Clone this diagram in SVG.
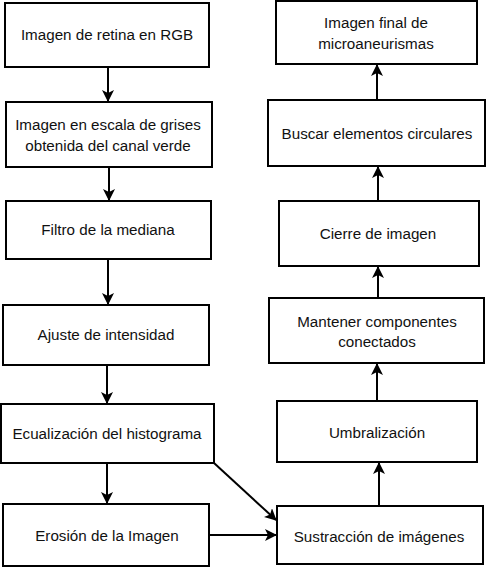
<svg xmlns="http://www.w3.org/2000/svg" width="487" height="568" viewBox="0 0 487 568">
<defs>
<style>
.box{fill:#fff;stroke:#000;stroke-width:2}
.t{font-family:"Liberation Sans",Arial,sans-serif;font-size:15.2px;fill:#111;text-anchor:middle}
.c{stroke:#000;stroke-width:2;fill:none}
</style>
<marker id="ah" viewBox="0 0 12 12" refX="11" refY="6" markerWidth="12" markerHeight="12" markerUnits="userSpaceOnUse" orient="auto">
<path d="M0,0 L12,6 L0,12 L3,6 z" fill="#000"/>
</marker>
</defs>
<rect width="487" height="568" fill="#fff"/>
<g id="n1"><rect class="box" x="5" y="3" width="204" height="64"/><text class="t" x="107" y="40">Imagen de retina en RGB</text></g>
<g id="n2"><rect class="box" x="6" y="102" width="206" height="65"/><text class="t" x="108" y="130">Imagen en escala de grises</text><text class="t" x="108" y="151">obtenida del canal verde</text></g>
<g id="n3"><rect class="box" x="6" y="201" width="205" height="58"/><text class="t" x="108" y="235">Filtro de la mediana</text></g>
<g id="n4"><rect class="box" x="3" y="305" width="206" height="60"/><text class="t" x="106" y="340">Ajuste de intensidad</text></g>
<g id="n5"><rect class="box" x="1" y="404" width="213" height="59"/><text class="t" x="107" y="439">Ecualización del histograma</text></g>
<g id="n6"><rect class="box" x="3" y="504" width="206" height="62"/><text class="t" x="107" y="541">Erosión de la Imagen</text></g>
<g id="n7"><rect class="box" x="277" y="506" width="206" height="58"/><text class="t" x="379" y="542">Sustracción de imágenes</text></g>
<g id="n8"><rect class="box" x="277" y="401" width="200" height="61"/><text class="t" x="377" y="438">Umbralización</text></g>
<g id="n9"><rect class="box" x="269" y="298" width="215" height="65"/><text class="t" x="377" y="327">Mantener componentes</text><text class="t" x="377" y="347">conectados</text></g>
<g id="n10"><rect class="box" x="279" y="201" width="200" height="65"/><text class="t" x="378" y="239">Cierre de imagen</text></g>
<g id="n11"><rect class="box" x="268" y="100" width="217" height="66"/><text class="t" x="377" y="139">Buscar elementos circulares</text></g>
<g id="n12"><rect class="box" x="276" y="1" width="201" height="63"/><text class="t" x="376" y="28">Imagen final de</text><text class="t" x="376" y="49">microaneurismas</text></g>
<g id="connectors">
<line class="c" x1="108" y1="67" x2="108" y2="101" marker-end="url(#ah)"/>
<line class="c" x1="109" y1="167" x2="109" y2="200" marker-end="url(#ah)"/>
<line class="c" x1="108" y1="259" x2="108" y2="304" marker-end="url(#ah)"/>
<line class="c" x1="107" y1="365" x2="107" y2="403" marker-end="url(#ah)"/>
<line class="c" x1="107" y1="463" x2="107" y2="503" marker-end="url(#ah)"/>
<line class="c" x1="209" y1="535" x2="276" y2="535" marker-end="url(#ah)"/>
<line class="c" x1="214" y1="463" x2="276" y2="520" marker-end="url(#ah)"/>
<line class="c" x1="379" y1="506" x2="379" y2="463" marker-end="url(#ah)"/>
<line class="c" x1="377" y1="401" x2="377" y2="364" marker-end="url(#ah)"/>
<line class="c" x1="378" y1="298" x2="378" y2="267" marker-end="url(#ah)"/>
<line class="c" x1="378" y1="201" x2="378" y2="167" marker-end="url(#ah)"/>
<line class="c" x1="377" y1="100" x2="377" y2="65" marker-end="url(#ah)"/>
</g>
</svg>
